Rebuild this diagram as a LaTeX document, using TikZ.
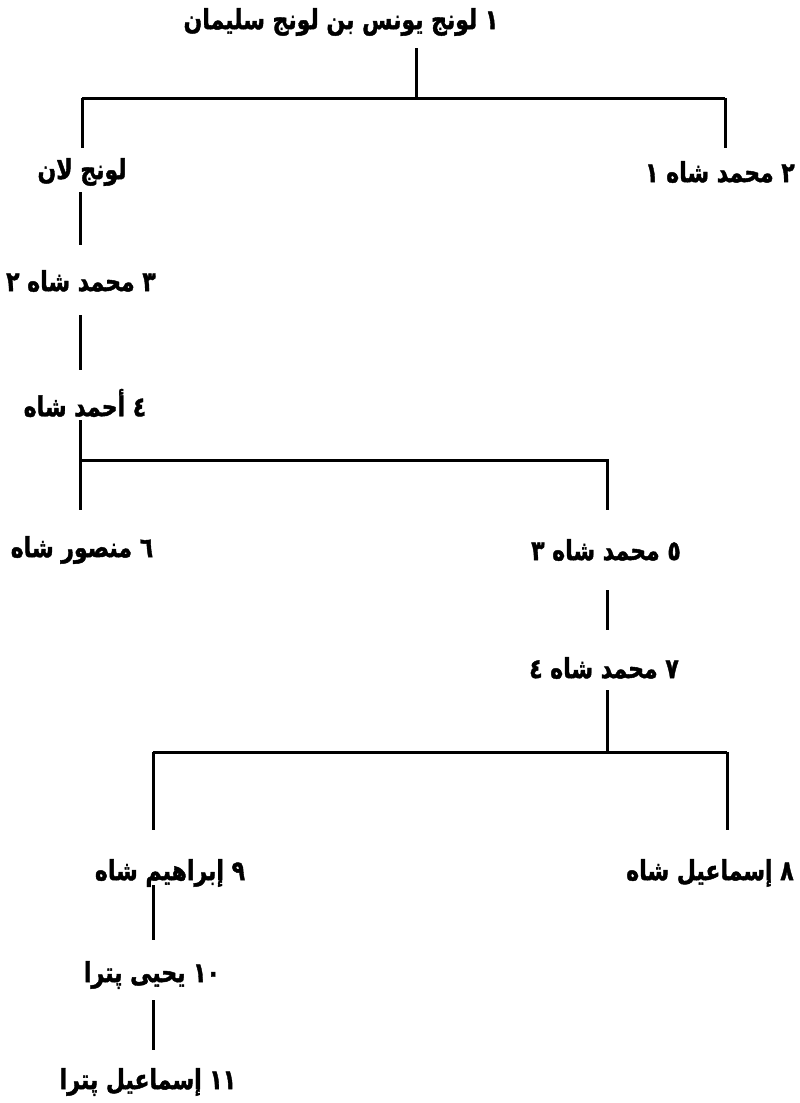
\documentclass[tikz,border=0pt]{standalone}
\usepackage{fontspec}
\TeXXeTstate=1
\newfontfamily\arabicfont[Script=Arabic,BoldFeatures={FakeBold=1.6}]{DejaVu Sans}
\newcommand{\artxt}[1]{\scalebox{1}[1.25]{\beginR #1\endR}}
\begin{document}
\begin{tikzpicture}[x=1pt,y=-1pt,
  lbl/.style={font=\arabicfont\bfseries\fontsize{22}{26}\selectfont, inner sep=0pt, anchor=center},
  link/.style={line width=3pt, line cap=butt}]
\useasboundingbox[fill=white] (0,0) rectangle (800,1103);
% nodes
\node[lbl] (n1)  at (341,22)  {\artxt{١ لونج يونس بن لونج سليمان}};
\node[lbl] (n2)  at (82,172)  {\artxt{لونج لان}};
\node[lbl] (n3)  at (720,172) {\artxt{٢ محمد شاه ١}};
\node[lbl] (n4)  at (81,281)  {\artxt{٣ محمد شاه ٢}};
\node[lbl] (n5)  at (85,403)  {\artxt{٤ أحمد شاه}};
\node[lbl] (n6)  at (82,550)  {\artxt{٦ منصور شاه}};
\node[lbl] (n7)  at (606,550) {\artxt{٥ محمد شاه ٣}};
\node[lbl] (n8)  at (604,668) {\artxt{٧ محمد شاه ٤}};
\node[lbl] (n9)  at (170,873) {\artxt{٩ إبراهيم شاه}};
\node[lbl] (n10) at (710,873) {\artxt{٨ إسماعيل شاه}};
\node[lbl] (n11) at (152,975) {\artxt{١٠ يحيى پترا}};
\node[lbl] (n12) at (148,1082){\artxt{١١ إسماعيل پترا}};
% junctions
\coordinate (t1) at (416,48);
\coordinate (j1) at (416,98);
\coordinate (j1L) at (82,98);
\coordinate (j1R) at (725,98);
\coordinate (e2) at (82,148);
\coordinate (e3) at (725,148);
\coordinate (a2) at (80,192);
\coordinate (a4) at (80,245);
\coordinate (b4) at (80,315);
\coordinate (b5) at (80,370);
\coordinate (c5) at (80,420);
\coordinate (j2L) at (80,460);
\coordinate (j2R) at (607,460);
\coordinate (e6) at (80,510);
\coordinate (e7) at (607,510);
\coordinate (d7) at (607,590);
\coordinate (d8) at (607,630);
\coordinate (f8) at (607,690);
\coordinate (j3) at (607,752);
\coordinate (j3L) at (153,752);
\coordinate (j3R) at (727,752);
\coordinate (e9) at (153,830);
\coordinate (e10) at (727,830);
\coordinate (g9) at (153,885);
\coordinate (g11) at (153,940);
\coordinate (h11) at (153,1000);
\coordinate (h12) at (153,1050);
% connectors
\draw[link] (t1) -- (j1);
\draw[link] (j1L) -- (j1R);
\draw[link] (j1L) -- (e2);
\draw[link] (j1R) -- (e3);
\draw[link] (a2) -- (a4);
\draw[link] (b4) -- (b5);
\draw[link] (c5) -- (e6);
\draw[link] (j2L) -- (j2R) -- (e7);
\draw[link] (d7) -- (d8);
\draw[link] (f8) -- (j3);
\draw[link] (j3L) -- (j3R);
\draw[link] (j3L) -- (e9);
\draw[link] (j3R) -- (e10);
\draw[link] (g9) -- (g11);
\draw[link] (h11) -- (h12);
\end{tikzpicture}
\end{document}
